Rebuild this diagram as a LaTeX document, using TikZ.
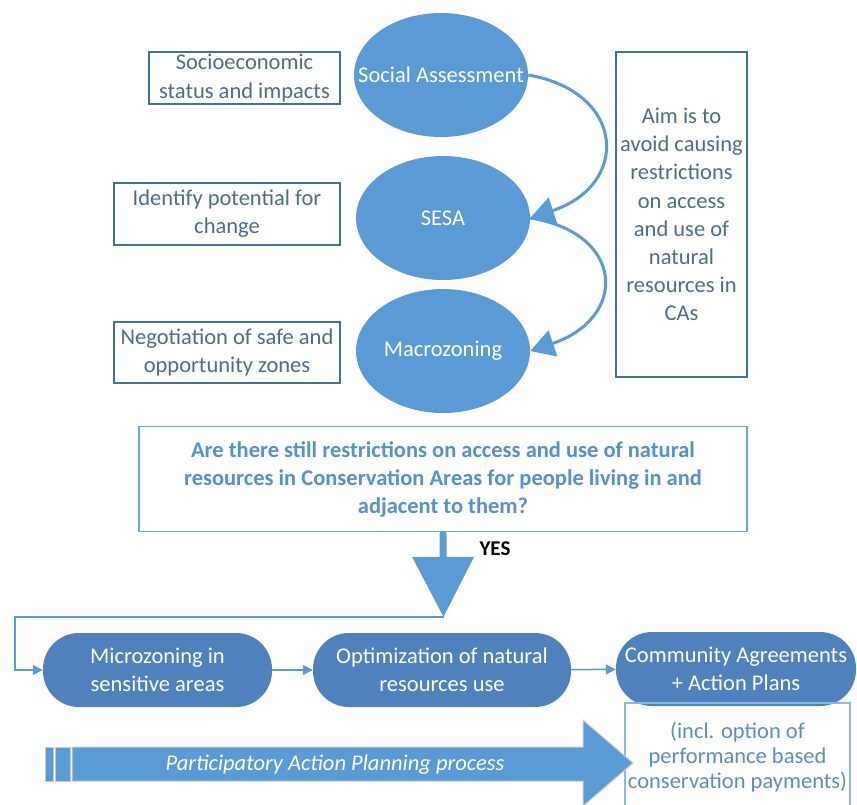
\documentclass[tikz,border=0pt]{standalone}
\usepackage{fontspec}
\setmainfont{Carlito}
\usetikzlibrary{shapes.geometric,arrows.meta,positioning}
\definecolor{ellblue}{HTML}{5B9BD5}
\definecolor{procblue}{HTML}{4F81BD}
\definecolor{noteline}{HTML}{41719C}
\definecolor{notetext}{HTML}{4E6B8C}
\definecolor{qline}{HTML}{6FA3DA}
\definecolor{qtext}{HTML}{5590CF}
\definecolor{payline}{HTML}{8DB8E6}
\definecolor{paytext}{HTML}{5A8DC6}
\definecolor{arrowedge}{HTML}{C8CCD2}
\tikzset{
  stage/.style={ellipse,fill=ellblue,text=white,minimum width=174pt,minimum height=124pt,inner xsep=-36pt,inner ysep=0pt},
  note/.style={draw=noteline,line width=1.5pt,text=notetext,align=center,inner sep=0pt},
  procbox/.style={fill=procblue,text=white,align=center,rounded corners=36pt,minimum height=74pt,inner sep=0pt},
  bendarrow/.style={draw=ellblue,line width=3pt,-{Triangle[length=24pt,width=27pt]}},
  link/.style={draw=ellblue,line width=1.5pt,-{Triangle[length=10pt,width=10pt]}}
}
\begin{document}
\begin{tikzpicture}[x=1pt,y=-1pt,font=\fontsize{22.5}{28.2}\selectfont]
\useasboundingbox (0,0) rectangle (857,804);
\clip (0,0) rectangle (857,804);

\node[stage] (sa) at (441,75) {Social Assessment};
\node[stage] (sesa) at (443,218) {SESA};
\node[stage] (macro) at (443,351) {Macrozoning};

\node[note,minimum width=191pt,minimum height=52pt] (n1) at (244.5,78) {Socioeconomic\\status and impacts};
\node[note,minimum width=226pt,minimum height=62pt] (n2) at (227,214) {Identify potential for\\change};
\node[note,minimum width=226pt,minimum height=61pt] (n3) at (227,352.5) {Negotiation of safe and\\opportunity zones};
\node[note,minimum width=131pt,minimum height=325pt] (aim) at (681.5,214.5) {Aim is to\\avoid causing\\restrictions\\on access\\and use of\\natural\\resources in\\CAs};

\draw[bendarrow] (sa.east) .. controls +(98,17) and +(100,-33) .. (sesa.east);
\draw[bendarrow] (sesa.east) .. controls +(95,15) and +(98,-33) .. (macro.east);

\node[draw=qline,line width=1.5pt,text=qtext,font=\bfseries\fontsize{22.5}{28}\selectfont,align=center,minimum width=608pt,minimum height=105pt,inner sep=0pt] (q) at (443,479)
  {Are there still restrictions on access and use of natural\\resources in Conservation Areas for people living in and\\adjacent to them?};

\coordinate (yestip) at (443.5,617);
\coordinate (corner) at (15,617);
\draw[ellblue,line width=7pt,line cap=round,-{Triangle[length=60pt,width=60pt]}] ([yshift=-2pt]q.south) -- (yestip);
\node[font=\bfseries\fontsize{21}{24}\selectfont] (yes) at (495,549) {YES};

\node[procbox,minimum width=229pt] (micro) at (157.5,670) {Microzoning in\\sensitive areas};
\node[procbox,minimum width=258pt] (opt) at (442,670) {Optimization of natural\\resources use};
\node[procbox,minimum width=240pt] (comm) at (736,669) {Community Agreements\\+ Action Plans};

\draw[link] (yestip) -- (corner) |- (micro.west);
\draw[link] (micro) -- (opt);
\draw[link] (opt) -- (comm);

\node[draw=payline,line width=1.5pt,text=paytext,align=center,font=\fontsize{22.5}{25}\selectfont,minimum width=225pt,minimum height=108pt,inner sep=0pt] (pay) at (737.5,757)
  {(incl. option of\\performance based\\conservation payments)};

\fill[ellblue,draw=arrowedge,line width=1pt] (45,747) rectangle (53,781);
\fill[ellblue,draw=arrowedge,line width=1pt] (55,747) rectangle (70,781);
\fill[ellblue,draw=arrowedge,line width=1pt] (72,747) -- (583,747) -- (583,720) -- (633,763) -- (583,806) -- (583,781) -- (72,781) -- cycle;
\node[text=white,font=\itshape\fontsize{22.5}{24}\selectfont] (pap) at (335,765) {Participatory Action Planning process};
\end{tikzpicture}
\end{document}
